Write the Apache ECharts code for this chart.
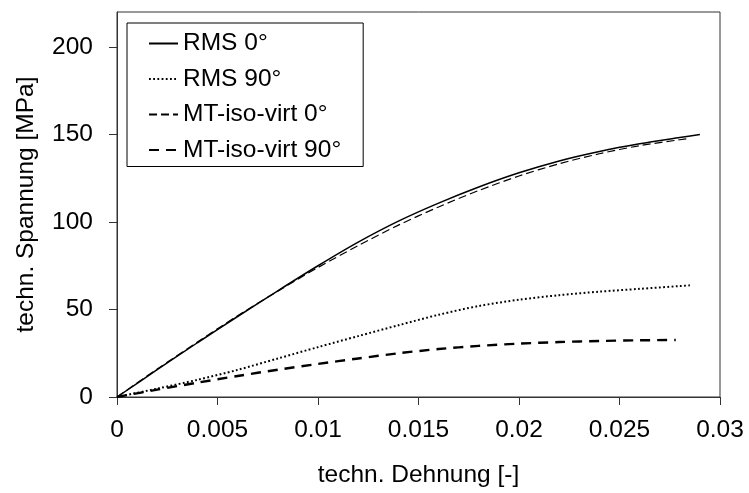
<!DOCTYPE html>
<html>
<head>
<meta charset="utf-8">
<script src="https://cdn.jsdelivr.net/npm/echarts@6/dist/echarts.min.js"></script>
<style>
html,body{margin:0;padding:0;background:#fff;}
#chart{width:749px;height:493px;}
</style>
</head>
<body>
<div id="chart"></div>
<script>
// Data
var seriesNames = ['RMS 0°', 'RMS 90°', 'MT-iso-virt 0°', 'MT-iso-virt 90°'];
var xTickLabels = ['0', '0.005', '0.01', '0.015', '0.02', '0.025', '0.03'];
var yTickLabels = [0, 50, 100, 150, 200];

var rms0X = [0, 0.002, 0.004, 0.006, 0.008, 0.010, 0.012, 0.014, 0.016, 0.018, 0.020, 0.022, 0.024, 0.026, 0.028, 0.029];
var rms0Y = [0, 15.6, 31, 46, 60.7, 75, 88.5, 100.5, 110.8, 120, 128.1, 134.9, 140.3, 144.7, 148.3, 150];

var rms90X = [0, 0.002, 0.004, 0.006, 0.008, 0.010, 0.012, 0.014, 0.016, 0.018, 0.020, 0.022, 0.024, 0.026, 0.028, 0.0285];
var rms90Y = [0, 4.8, 9.8, 15.5, 22, 28.5, 34.8, 41, 47, 52, 55.6, 58.2, 60.2, 61.8, 63.4, 63.8];

var mt0X = [0, 0.002, 0.004, 0.006, 0.008, 0.010, 0.012, 0.014, 0.016, 0.018, 0.020, 0.022, 0.024, 0.026, 0.028, 0.0285];
var mt0Y = [0, 16, 31.4, 46.4, 60.5, 74, 86.5, 98.2, 108.6, 118, 126.3, 133.3, 139, 143.6, 147, 147.8];

var mt90X = [0, 0.002, 0.004, 0.006, 0.008, 0.010, 0.012, 0.014, 0.016, 0.018, 0.020, 0.022, 0.024, 0.026, 0.0278];
var mt90Y = [0, 4.2, 8.2, 12, 15.6, 18.9, 22, 25, 27.4, 29.2, 30.5, 31.4, 32, 32.4, 32.6];

function pairs(xs, ys) { return xs.map(function (x, i) { return [x, ys[i]]; }); }

var FONT = 'Liberation Sans, Arial, sans-serif';
var FS = 24.5;
var AX = '#333333';

var chart = echarts.init(document.getElementById('chart'), null, {renderer: 'canvas'});
chart.setOption({
  backgroundColor: '#ffffff',
  animation: false,
  textStyle: {fontFamily: FONT},
  grid: {left: 117, right: 29, top: 12, bottom: 96, show: true, borderColor: AX, borderWidth: 1, backgroundColor: 'transparent'},
  legend: {
    orient: 'vertical', left: 127, top: 23,
    padding: [8, 22, 4, 21],
    borderColor: '#000', borderWidth: 1, borderRadius: 0,
    backgroundColor: '#fff',
    itemWidth: 29, itemHeight: 25, itemGap: 10.5,
    itemStyle: {opacity: 0},
    textStyle: {fontFamily: FONT, fontSize: FS, color: '#000'},
    data: seriesNames
  },
  xAxis: {
    type: 'value', min: 0, max: 0.03, interval: 0.005,
    name: 'techn. Dehnung [-]', nameLocation: 'middle', nameGap: 66,
    nameTextStyle: {fontFamily: FONT, fontSize: FS, color: '#000'},
    axisLine: {show: true, onZero: false, lineStyle: {color: AX, width: 1}},
    axisTick: {show: true, inside: false, length: 8, lineStyle: {color: AX}},
    axisLabel: {margin: 21, fontFamily: FONT, fontSize: FS, color: '#000',
      formatter: function (v) { var i = Math.round(v / 0.005); return xTickLabels[i] !== undefined ? xTickLabels[i] : ''; }},
    splitLine: {show: false}
  },
  yAxis: {
    type: 'value', min: 0, max: 220, interval: 50,
    name: 'techn. Spannung [MPa]', nameLocation: 'middle', nameGap: 78, nameRotate: 90,
    nameTextStyle: {fontFamily: FONT, fontSize: FS, color: '#000'},
    axisLine: {show: true, onZero: false, lineStyle: {color: AX, width: 1}},
    axisTick: {show: true, inside: false, length: 8, lineStyle: {color: AX}, customValues: yTickLabels},
    axisLabel: {margin: 24, fontFamily: FONT, fontSize: FS, color: '#000', customValues: yTickLabels},
    splitLine: {show: false}
  },
  series: [
    {name: seriesNames[0], type: 'line', data: pairs(rms0X, rms0Y), showSymbol: false, symbol: 'none', smooth: 0.3,
      lineStyle: {color: '#000', width: 1.5, type: 'solid'}, itemStyle: {color: '#000'}},
    {name: seriesNames[1], type: 'line', data: pairs(rms90X, rms90Y), showSymbol: false, symbol: 'none', smooth: 0.3,
      lineStyle: {color: '#000', width: 2, type: [1.8, 2.4]}, itemStyle: {color: '#000'}},
    {name: seriesNames[2], type: 'line', data: pairs(mt0X, mt0Y), showSymbol: false, symbol: 'none', smooth: 0.3,
      lineStyle: {color: '#000', width: 1.2, type: [8, 4]}, itemStyle: {color: '#000'}},
    {name: seriesNames[3], type: 'line', data: pairs(mt90X, mt90Y), showSymbol: false, symbol: 'none', smooth: 0.3,
      lineStyle: {color: '#000', width: 2.4, type: [10, 7]}, itemStyle: {color: '#000'}}
  ]
});
</script>
</body>
</html>
